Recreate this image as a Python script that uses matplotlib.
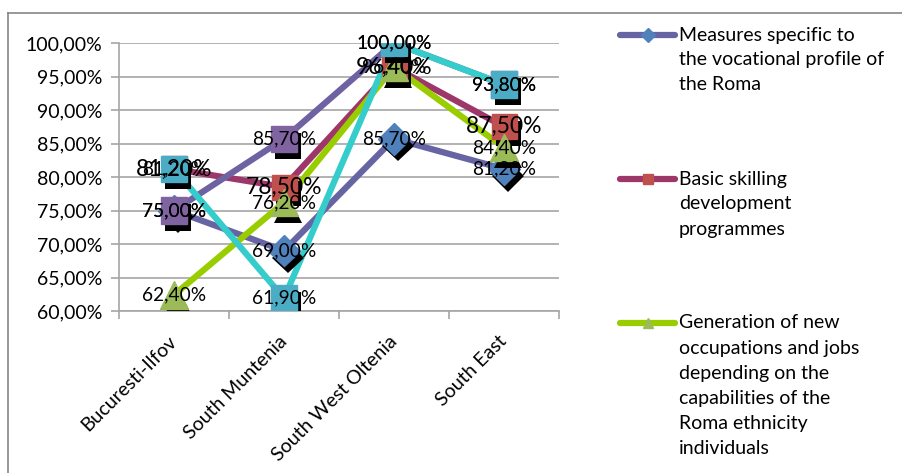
import matplotlib.pyplot as plt
import matplotlib.patheffects as pe
from matplotlib.lines import Line2D
from matplotlib.ticker import FixedLocator, FuncFormatter

plt.rcParams['font.family'] = ['Lato', 'DejaVu Sans']

regions = ["Bucuresti-Ilfov", "South Muntenia", "South West Oltenia", "South East"]

measures = [75.0, 69.0, 85.7, 81.2]
basic_skilling = [81.2, 78.5, 96.4, 87.5]
generation = [62.4, 76.2, 96.4, 84.4]
series_4 = [75.0, 85.7, 100.0, 93.8]
series_5 = [81.2, 61.9, 100.0, 93.8]

legend_texts = [
    ["Measures specific to", "the vocational profile of", "the Roma"],
    ["Basic skilling", "development", "programmes"],
    ["Generation of new", "occupations and jobs", "depending on the",
     "capabilities of the", "Roma ethnicity", "individuals"],
]

W, H = 903, 473
fig = plt.figure(figsize=(W / 100, H / 100), dpi=100)
ax = fig.add_axes([119 / W, 1 - 311 / H, (559 - 119) / W, (311 - 43) / H])

# line colour, marker, marker colour, marker size, label size
styles = [
    (measures, "#6664A2", "D", "#4F81BD", 16, 13.8),
    (basic_skilling, "#9E3769", "s", "#C0504D", 18, 16.5),
    (generation, "#9ACD00", "^", "#9BBB59", 20, 13.8),
    (series_4, "#6F62A3", "s", "#8064A2", 19, 13.8),
    (series_5, "#35CCCC", "s", "#4BACC6", 19, 13.8),
]

x = list(range(len(regions)))
shadow = [pe.SimplePatchShadow(offset=(3, -5), shadow_rgbFace="black", alpha=1.0), pe.Normal()]

# lines first, markers on top
for i, (vals, lc, mk, mc, ms, fs) in enumerate(styles):
    ax.plot(x, vals, color=lc, lw=4.5, solid_capstyle="round", zorder=2 + i * 0.01)
for i, (vals, lc, mk, mc, ms, fs) in enumerate(styles):
    ax.plot(x, vals, ls="none", marker=mk, markersize=ms, markerfacecolor=mc,
            markeredgecolor=mc, zorder=3 + i * 0.01, path_effects=shadow)
for vals, lc, mk, mc, ms, fs in styles:
    for xi, v in zip(x, vals):
        ax.text(xi, v, f"{v:.2f}%".replace(".", ","), ha="center", va="center",
                fontsize=fs, color="black", zorder=10)

ax.set_xlim(-0.5, 3.5)
ax.set_ylim(60, 100)
ax.yaxis.set_major_locator(FixedLocator([60 + 5 * k for k in range(9)]))
ax.yaxis.set_major_formatter(FuncFormatter(lambda v, p: f"{v:.2f}%".replace(".", ",")))
ax.yaxis.grid(True, color="#A6A6A6", lw=1.2)
ax.set_axisbelow(True)

ax.set_xticks(x)
ax.set_xticklabels(regions, rotation=45, ha="right", va="center", rotation_mode="anchor")
ax.set_xticks([-0.5, 0.5, 1.5, 2.5, 3.5], minor=True)
ax.tick_params(axis="x", which="major", length=0, pad=20, labelsize=14)
ax.tick_params(axis="x", which="minor", length=6, color="#A6A6A6", width=1.2)
ax.tick_params(axis="y", length=6, color="#A6A6A6", width=1.2, pad=6, labelsize=14)

for s in ["top", "right"]:
    ax.spines[s].set_visible(False)
for s in ["left", "bottom"]:
    ax.spines[s].set_color("#A6A6A6")
    ax.spines[s].set_linewidth(1.2)

# outer chart frame
fig.add_artist(Line2D([8 / W, 8 / W], [0, 1 - 13 / H], color="#868686", lw=1.2))
fig.add_artist(Line2D([8 / W, 1], [1 - 13 / H, 1 - 13 / H], color="#868686", lw=1.2))

# legend drawn by hand
entry_y = [35, 179, 323]
for (vals, lc, mk, mc, ms, fs), lines, y0 in zip(styles[:3], legend_texts, entry_y):
    yy = 1 - y0 / H
    fig.add_artist(Line2D([620 / W, 675 / W], [yy, yy], color=lc, lw=4.5,
                          solid_capstyle="round"))
    fig.add_artist(Line2D([647.5 / W], [yy], marker=mk, markersize=7,
                          markerfacecolor=mc, markeredgecolor=mc))
    for k, t in enumerate(lines):
        fig.text(679 / W, 1 - (y0 + 25 * k) / H, t, ha="left", va="center", fontsize=14)

fig.savefig("out.png", dpi=100)
